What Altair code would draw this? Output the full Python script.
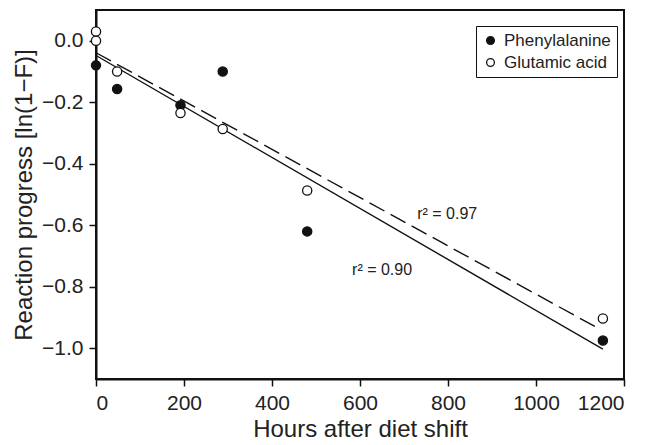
import altair as alt
import pandas as pd

# ---- data ----
hours_phe = [0, 48, 192, 288, 480, 1152]
prog_phe = [-0.08, -0.157, -0.21, -0.10, -0.62, -0.975]

hours_glu = [0, 0, 48, 192, 288, 480, 1152]
prog_glu = [0.03, 0.0, -0.10, -0.235, -0.287, -0.487, -0.903]

fit_hours_phe = [0, 1152]
fit_prog_phe = [-0.048, -1.003]
fit_hours_glu = [0, 1145]
fit_prog_glu = [-0.039, -0.938]

series = ["Phenylalanine", "Glutamic acid"]

label_text = ["r\u00b2 = 0.97", "r\u00b2 = 0.90"]
label_hours = [730, 582]
label_prog = [-0.562, -0.746]

x_ticks = [0, 200, 400, 600, 800, 1000, 1200]
y_ticks = [0.0, -0.2, -0.4, -0.6, -0.8, -1.0]

# ---- tables ----
pts = pd.DataFrame(
    {"hours": hours_phe + hours_glu,
     "prog": prog_phe + prog_glu,
     "series": [series[0]] * len(hours_phe) + [series[1]] * len(hours_glu),
     "order": [0] * len(hours_phe) + [1] * len(hours_glu)}
)
fit_phe = pd.DataFrame({"hours": fit_hours_phe, "prog": fit_prog_phe})
fit_glu = pd.DataFrame({"hours": fit_hours_glu, "prog": fit_prog_glu})
labels = pd.DataFrame({"hours": label_hours, "prog": label_prog, "text": label_text})

xs = alt.Scale(domain=[0, 1200], nice=False, zero=False)
ys = alt.Scale(domain=[-1.1, 0.1], nice=False, zero=False)

x_enc = alt.X("hours:Q", scale=xs,
              axis=alt.Axis(values=x_ticks, title="Hours after diet shift", format="d"))
y_enc = alt.Y("prog:Q", scale=ys,
              axis=alt.Axis(values=y_ticks, title="Reaction progress [ln(1\u2212F)]", format=".1f"))

line_phe = alt.Chart(fit_phe).mark_line(color="#111", strokeWidth=1.4).encode(x=x_enc, y=y_enc)
line_glu = alt.Chart(fit_glu).mark_line(color="#111", strokeWidth=1.4, strokeDash=[17, 7]).encode(
    x="hours:Q", y="prog:Q")

points = alt.Chart(pts).mark_point(
    filled=True, shape="circle", size=85, stroke="#111", strokeWidth=1.3, opacity=1
).encode(
    x="hours:Q",
    y="prog:Q",
    fill=alt.Fill("series:N",
                  scale=alt.Scale(domain=series, range=["#111", "white"]),
                  sort=series,
                  legend=alt.Legend(title=None, orient="none", legendX=380, legendY=16,
                                    padding=6, strokeColor="#111",
                                    labelFontSize=17, labelColor="#222",
                                    symbolType="circle", symbolSize=60,
                                    symbolStrokeColor="#111", symbolStrokeWidth=1.3,
                                    rowPadding=4, labelOffset=5, fillColor="white")),
    order="order:Q",
)

text = alt.Chart(labels).mark_text(
    align="left", baseline="middle", fontSize=16, color="#222", font="Liberation Sans"
).encode(x="hours:Q", y="prog:Q", text="text:N")

chart = alt.layer(line_phe, line_glu, points, text).properties(
    width=528, height=369,
    autosize=alt.AutoSizeParams(type="none"),
    padding={"left": 96, "top": 10, "right": 30, "bottom": 66},
).configure(
    font="Liberation Sans",
).configure_view(
    stroke="#111", strokeWidth=2
).configure_legend(
    strokeWidth=1
).configure_axis(
    grid=False,
    domainColor="#111", domainWidth=2,
    tickColor="#111", tickWidth=1.5, tickSize=7,
    labelFontSize=21, labelColor="#222", labelPadding=6,
    titleFontSize=24, titleColor="#222", titleFontWeight="normal",
).configure_axisX(
    titlePadding=4, labelPadding=6
).configure_axisY(
    titlePadding=5
)

chart.save("out.html", embed_options={"renderer": "svg", "actions": False})
